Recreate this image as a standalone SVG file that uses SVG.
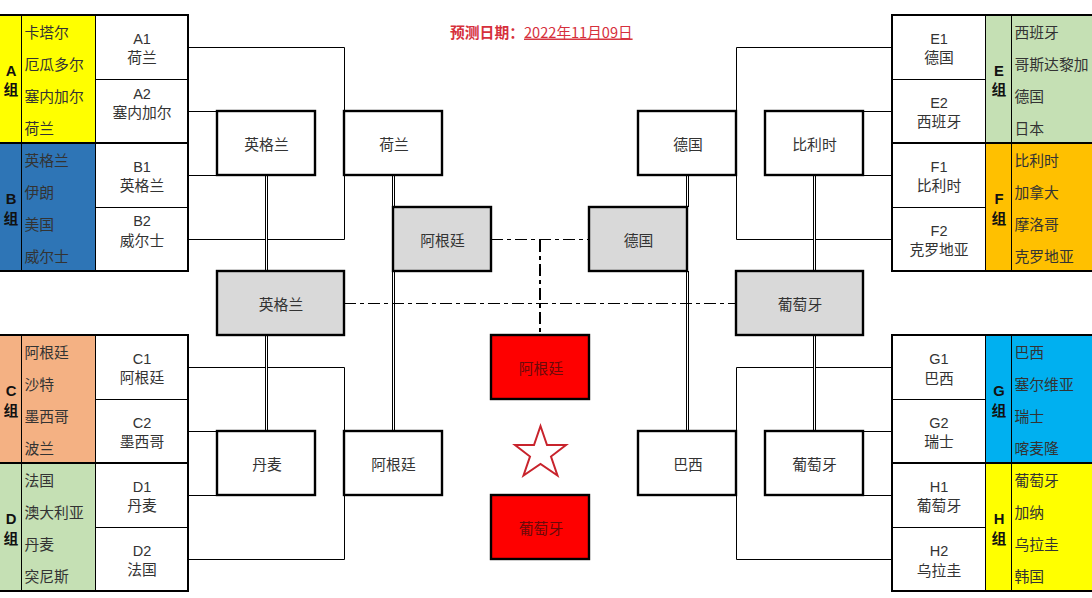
<svg xmlns="http://www.w3.org/2000/svg" width="1092" height="598" viewBox="0 0 1092 598">
<style>
text{font-family:"Noto Sans CJK SC","Liberation Sans",sans-serif;font-size:14.8px;fill:#333;text-anchor:middle}
.latin{font-family:"Liberation Sans","Noto Sans CJK SC",sans-serif;font-size:14.5px}
.l{text-anchor:start}
.g{font-weight:700;fill:#111}
.gl{font-family:"Liberation Sans",sans-serif;font-weight:700;fill:#111}
.box{stroke:#000;stroke-width:2.4;fill:#fff}
.semi{stroke:#000;stroke-width:2.4;fill:#d9d9d9}
.final{stroke:#000;stroke-width:2.4;fill:#fe0000}
.final+text{fill:#6b0a0a}
.tb{stroke:#000;stroke-width:2;fill:none}
.th{stroke:#000;stroke-width:1;fill:none}
.c{stroke:#000;stroke-width:1;fill:none}
.d1{stroke:#000;stroke-width:3;fill:none}
.d2{stroke:#fff;stroke-width:1;fill:none}
.dd{stroke:#000;stroke-width:1;fill:none;stroke-dasharray:12 4 4 4}
.ddv{stroke:#000;stroke-width:2;fill:none;stroke-dasharray:12 4 4 4}
.title{fill:#d6303c}
</style>
<g id="connectors">
<path class="c" d="M188 47.500H344.500V239.500H188M188 111.500H217M188 175.500H217M188 367.500H344.500V559.500H188M188 431.500H217M188 495.500H217"/>
<path class="c" d="M892 47.500H736.500V239.500H892M892 111.500H863M892 175.500H863M892 367.500H736.500V559.500H892M892 431.500H863M892 495.500H863"/>
<path class="d1" d="M266.500 175V271M266.500 335V431M393.500 175V207M393.500 271V431M687.500 175V207M687.500 271V431M814.500 175V271M814.500 335V431"/>
<path class="d2" d="M266.500 175V271M266.500 335V431M393.500 175V207M393.500 271V431M687.500 175V207M687.500 271V431M814.500 175V271M814.500 335V431"/>
<path class="dd" d="M344 303.500H736M491 239.500H589"/>
<path class="ddv" d="M540 240V335"/>
</g>
<g id="title">
<text class="l title" x="450" y="37.500" style="font-weight:700">预测日期：</text>
<text class="l title" x="524" y="37.500" text-decoration="underline" style="font-size:14.6px">2022年11月09日</text>
</g>
<g id="group-A">
<rect x="-3" y="15" width="98" height="128" fill="#ffff00"/>
<rect x="95" y="15" width="93" height="128" fill="#fff"/>
<path class="th" d="M21.500 15V143M95.500 15V143M95 79.500H188"/>
<path class="tb" d="M-3 15H188V143H-3"/>
<text class="gl" x="11" y="76">A</text><text class="g" x="11" y="94.500">组</text>
<text class="l" x="24.500" y="37.500">卡塔尔</text><text class="l" x="24.500" y="69.500">厄瓜多尔</text><text class="l" x="24.500" y="101.500">塞内加尔</text><text class="l" x="24.500" y="133.500">荷兰</text>
<text class="latin" x="142" y="44">A1</text><text x="142" y="62.500">荷兰</text>
<text class="latin" x="142" y="99">A2</text><text x="142" y="117.500">塞内加尔</text>
</g>
<g id="group-B">
<rect x="-3" y="143" width="98" height="128" fill="#2e75b6"/>
<rect x="95" y="143" width="93" height="128" fill="#fff"/>
<path class="th" d="M21.500 143V271M95.500 143V271M95 207.500H188"/>
<path class="tb" d="M-3 143H188V271H-3"/>
<text class="gl" x="11" y="204">B</text><text class="g" x="11" y="223.500">组</text>
<text class="l" x="24.500" y="165.500">英格兰</text><text class="l" x="24.500" y="197.500">伊朗</text><text class="l" x="24.500" y="229.500">美国</text><text class="l" x="24.500" y="261.500">威尔士</text>
<text class="latin" x="142" y="172">B1</text><text x="142" y="190.500">英格兰</text>
<text class="latin" x="142" y="226">B2</text><text x="142" y="245.500">威尔士</text>
</g>
<g id="group-C">
<rect x="-3" y="335" width="98" height="128" fill="#f4b183"/>
<rect x="95" y="335" width="93" height="128" fill="#fff"/>
<path class="th" d="M21.500 335V463M95.500 335V463M95 399.500H188"/>
<path class="tb" d="M-3 335H188V463H-3"/>
<text class="gl" x="11" y="396">C</text><text class="g" x="11" y="415.500">组</text>
<text class="l" x="24.500" y="357.500">阿根廷</text><text class="l" x="24.500" y="389.500">沙特</text><text class="l" x="24.500" y="421.500">墨西哥</text><text class="l" x="24.500" y="453.500">波兰</text>
<text class="latin" x="142" y="364">C1</text><text x="142" y="382.500">阿根廷</text>
<text class="latin" x="142" y="428">C2</text><text x="142" y="446.500">墨西哥</text>
</g>
<g id="group-D">
<rect x="-3" y="463" width="98" height="128" fill="#c5e0b4"/>
<rect x="95" y="463" width="93" height="128" fill="#fff"/>
<path class="th" d="M21.500 463V591M95.500 463V591M95 527.500H188"/>
<path class="tb" d="M-3 463H188V591H-3"/>
<text class="gl" x="11" y="524">D</text><text class="g" x="11" y="543.500">组</text>
<text class="l" x="24.500" y="485.500">法国</text><text class="l" x="24.500" y="517.500">澳大利亚</text><text class="l" x="24.500" y="549.500">丹麦</text><text class="l" x="24.500" y="581.500">突尼斯</text>
<text class="latin" x="142" y="492">D1</text><text x="142" y="510.500">丹麦</text>
<text class="latin" x="142" y="556">D2</text><text x="142" y="574.500">法国</text>
</g>
<g id="group-E">
<rect x="892" y="15" width="93" height="128" fill="#fff"/>
<rect x="985" y="15" width="110" height="128" fill="#c5e0b4"/>
<path class="th" d="M1011.500 15V143M985.500 15V143M892 79.500H985"/>
<path class="tb" d="M1095 15H892V143H1095"/>
<text class="gl" x="999" y="76">E</text><text class="g" x="999" y="94.500">组</text>
<text class="l" x="1014.500" y="37.500">西班牙</text><text class="l" x="1014.500" y="69.500">哥斯达黎加</text><text class="l" x="1014.500" y="101.500">德国</text><text class="l" x="1014.500" y="133.500">日本</text>
<text class="latin" x="939" y="44">E1</text><text x="939" y="62.500">德国</text>
<text class="latin" x="939" y="108">E2</text><text x="939" y="126.500">西班牙</text>
</g>
<g id="group-F">
<rect x="892" y="143" width="93" height="128" fill="#fff"/>
<rect x="985" y="143" width="110" height="128" fill="#ffc000"/>
<path class="th" d="M1011.500 143V271M985.500 143V271M892 207.500H985"/>
<path class="tb" d="M1095 143H892V271H1095"/>
<text class="gl" x="999" y="204">F</text><text class="g" x="999" y="223.500">组</text>
<text class="l" x="1014.500" y="165.500">比利时</text><text class="l" x="1014.500" y="197.500">加拿大</text><text class="l" x="1014.500" y="229.500">摩洛哥</text><text class="l" x="1014.500" y="261.500">克罗地亚</text>
<text class="latin" x="939" y="172">F1</text><text x="939" y="190.500">比利时</text>
<text class="latin" x="939" y="236">F2</text><text x="939" y="254.500">克罗地亚</text>
</g>
<g id="group-G">
<rect x="892" y="335" width="93" height="128" fill="#fff"/>
<rect x="985" y="335" width="110" height="128" fill="#00b0f0"/>
<path class="th" d="M1011.500 335V463M985.500 335V463M892 399.500H985"/>
<path class="tb" d="M1095 335H892V463H1095"/>
<text class="gl" x="999" y="396">G</text><text class="g" x="999" y="415.500">组</text>
<text class="l" x="1014.500" y="357.500">巴西</text><text class="l" x="1014.500" y="389.500">塞尔维亚</text><text class="l" x="1014.500" y="421.500">瑞士</text><text class="l" x="1014.500" y="453.500">喀麦隆</text>
<text class="latin" x="939" y="364">G1</text><text x="939" y="383.500">巴西</text>
<text class="latin" x="939" y="428">G2</text><text x="939" y="446.500">瑞士</text>
</g>
<g id="group-H">
<rect x="892" y="463" width="93" height="128" fill="#fff"/>
<rect x="985" y="463" width="110" height="128" fill="#ffff00"/>
<path class="th" d="M1011.500 463V591M985.500 463V591M892 527.500H985"/>
<path class="tb" d="M1095 463H892V591H1095"/>
<text class="gl" x="999" y="524">H</text><text class="g" x="999" y="543.500">组</text>
<text class="l" x="1014.500" y="485.500">葡萄牙</text><text class="l" x="1014.500" y="517.500">加纳</text><text class="l" x="1014.500" y="549.500">乌拉圭</text><text class="l" x="1014.500" y="581.500">韩国</text>
<text class="latin" x="939" y="492">H1</text><text x="939" y="510.500">葡萄牙</text>
<text class="latin" x="939" y="556">H2</text><text x="939" y="575.500">乌拉圭</text>
</g>
<g id="r16-england"><rect class="box" x="217" y="111" width="98" height="64"/><text x="266.500" y="149.500">英格兰</text></g>
<g id="r16-netherlands"><rect class="box" x="344" y="111" width="98" height="64"/><text x="394" y="149.500">荷兰</text></g>
<g id="r16-germany"><rect class="box" x="638" y="111" width="98" height="64"/><text x="688" y="149.500">德国</text></g>
<g id="r16-belgium"><rect class="box" x="765" y="111" width="98" height="64"/><text x="814.500" y="149.500">比利时</text></g>
<g id="qf-argentina"><rect class="semi" x="393" y="207" width="98" height="64"/><text x="442.500" y="245.500">阿根廷</text></g>
<g id="qf-germany"><rect class="semi" x="589" y="207" width="98" height="64"/><text x="638.500" y="245.500">德国</text></g>
<g id="sf-england"><rect class="semi" x="217" y="271" width="127" height="64"/><text x="281" y="309.500">英格兰</text></g>
<g id="sf-portugal"><rect class="semi" x="736" y="271" width="127" height="64"/><text x="800" y="309.500">葡萄牙</text></g>
<g id="final-argentina"><rect class="final" x="491" y="335" width="98" height="64"/><text x="541" y="373.500">阿根廷</text></g>
<g id="final-portugal"><rect class="final" x="491" y="495" width="98" height="64"/><text x="541" y="533.500">葡萄牙</text></g>
<g id="r16-denmark"><rect class="box" x="217" y="431" width="98" height="64"/><text x="267" y="469.500">丹麦</text></g>
<g id="r16-argentina"><rect class="box" x="344" y="431" width="98" height="64"/><text x="393.500" y="469.500">阿根廷</text></g>
<g id="r16-brazil"><rect class="box" x="638" y="431" width="98" height="64"/><text x="688" y="469.500">巴西</text></g>
<g id="r16-portugal"><rect class="box" x="765" y="431" width="98" height="64"/><text x="814.500" y="469.500">葡萄牙</text></g>
<g id="star"><polygon points="540.500,426 547,445 566,445 551,456.500 557.500,475.500 540.500,464 523.500,475.500 530,456.500 515,445 534,445" fill="#fff" stroke="#c8232c" stroke-width="2"/></g>
</svg>
